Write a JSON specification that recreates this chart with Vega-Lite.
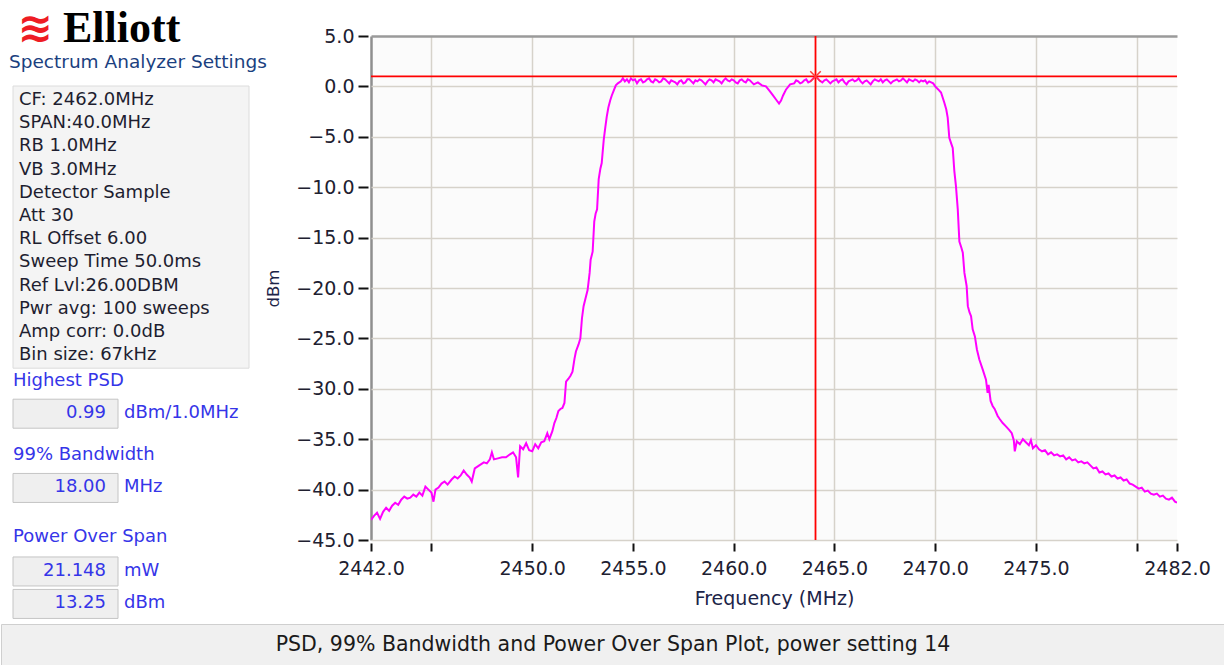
{
  "$schema": "https://vega.github.io/schema/vega-lite/v6.json",
  "background": "#ffffff",
  "padding": {"left": 0, "top": 7, "right": 0, "bottom": 0},
  "bounds": "full",
  "spacing": 3,
  "config": {"view": {"stroke": null}, "font": "DejaVu Sans"},
  "datasets": {
    "trace": [
      {"f":2442.0,"p":-43.0},{"f":2442.15,"p":-42.6},{"f":2442.3,"p":-42.3},{"f":2442.45,"p":-42.9},{"f":2442.6,"p":-42.2},{"f":2442.75,"p":-41.8},{"f":2442.9,"p":-42.1},{"f":2443.05,"p":-41.6},{"f":2443.2,"p":-41.3},{"f":2443.35,"p":-41.5},{"f":2443.5,"p":-41.0},{"f":2443.65,"p":-40.7},{"f":2443.8,"p":-40.9},{"f":2443.95,"p":-40.8},{"f":2444.1,"p":-40.5},{"f":2444.25,"p":-40.7},{"f":2444.4,"p":-40.3},{"f":2444.55,"p":-40.6},{"f":2444.7,"p":-39.7},{"f":2444.85,"p":-40.0},{"f":2445.0,"p":-40.3},{"f":2445.1,"p":-41.2},{"f":2445.2,"p":-40.0},{"f":2445.35,"p":-39.8},{"f":2445.5,"p":-39.4},{"f":2445.65,"p":-39.2},{"f":2445.8,"p":-39.5},{"f":2446.0,"p":-39.0},{"f":2446.15,"p":-38.7},{"f":2446.3,"p":-38.9},{"f":2446.45,"p":-38.6},{"f":2446.6,"p":-38.1},{"f":2446.75,"p":-38.5},{"f":2446.9,"p":-38.8},{"f":2447.0,"p":-39.2},{"f":2447.15,"p":-37.9},{"f":2447.3,"p":-37.7},{"f":2447.45,"p":-37.5},{"f":2447.6,"p":-37.3},{"f":2447.75,"p":-37.4},{"f":2447.9,"p":-37.0},{"f":2448.0,"p":-36.3},{"f":2448.1,"p":-37.0},{"f":2448.3,"p":-36.9},{"f":2448.5,"p":-36.8},{"f":2448.7,"p":-36.8},{"f":2448.9,"p":-36.5},{"f":2449.05,"p":-36.3},{"f":2449.2,"p":-36.8},{"f":2449.3,"p":-38.8},{"f":2449.4,"p":-35.7},{"f":2449.55,"p":-36.0},{"f":2449.7,"p":-35.4},{"f":2449.85,"p":-36.1},{"f":2450.0,"p":-36.2},{"f":2450.15,"p":-35.5},{"f":2450.3,"p":-35.9},{"f":2450.45,"p":-35.3},{"f":2450.6,"p":-35.2},{"f":2450.75,"p":-34.4},{"f":2450.85,"p":-35.0},{"f":2451.0,"p":-34.2},{"f":2451.1,"p":-33.4},{"f":2451.2,"p":-32.9},{"f":2451.3,"p":-32.2},{"f":2451.4,"p":-32.0},{"f":2451.5,"p":-31.9},{"f":2451.6,"p":-31.4},{"f":2451.68,"p":-29.3},{"f":2451.8,"p":-29.0},{"f":2451.9,"p":-28.7},{"f":2452.0,"p":-28.3},{"f":2452.1,"p":-27.0},{"f":2452.17,"p":-26.3},{"f":2452.3,"p":-25.6},{"f":2452.39,"p":-25.0},{"f":2452.47,"p":-23.0},{"f":2452.55,"p":-21.8},{"f":2452.65,"p":-21.0},{"f":2452.75,"p":-20.2},{"f":2452.85,"p":-18.5},{"f":2452.9,"p":-17.2},{"f":2453.0,"p":-16.4},{"f":2453.08,"p":-13.4},{"f":2453.15,"p":-12.6},{"f":2453.22,"p":-12.2},{"f":2453.3,"p":-9.2},{"f":2453.38,"p":-8.2},{"f":2453.45,"p":-7.6},{"f":2453.55,"p":-5.3},{"f":2453.62,"p":-4.2},{"f":2453.7,"p":-3.0},{"f":2453.78,"p":-2.1},{"f":2453.87,"p":-1.4},{"f":2453.95,"p":-0.9},{"f":2454.05,"p":-0.4},{"f":2454.15,"p":0.1},{"f":2454.25,"p":0.3},{"f":2454.4,"p":0.5},
      {"f":2454.5,"p":0.8},{"f":2454.6,"p":0.5},{"f":2454.7,"p":0.7},{"f":2454.8,"p":0.4},{"f":2454.9,"p":0.8},{"f":2455.0,"p":0.6},{"f":2455.1,"p":0.7},{"f":2455.2,"p":0.3},{"f":2455.3,"p":0.6},{"f":2455.4,"p":0.7},{"f":2455.5,"p":0.4},{"f":2455.6,"p":0.5},{"f":2455.7,"p":0.7},{"f":2455.8,"p":0.8},{"f":2455.9,"p":0.5},{"f":2456.0,"p":0.4},{"f":2456.1,"p":0.7},{"f":2456.2,"p":0.6},{"f":2456.3,"p":0.4},{"f":2456.4,"p":0.5},{"f":2456.5,"p":0.8},{"f":2456.6,"p":0.7},{"f":2456.7,"p":0.5},{"f":2456.8,"p":0.3},{"f":2456.9,"p":0.6},{"f":2457.0,"p":0.5},{"f":2457.1,"p":0.4},{"f":2457.2,"p":0.2},{"f":2457.3,"p":0.5},{"f":2457.4,"p":0.6},{"f":2457.5,"p":0.3},{"f":2457.6,"p":0.4},{"f":2457.7,"p":0.7},{"f":2457.8,"p":0.7},{"f":2457.9,"p":0.5},{"f":2458.0,"p":0.3},{"f":2458.1,"p":0.6},{"f":2458.2,"p":0.5},{"f":2458.3,"p":0.7},{"f":2458.4,"p":0.6},{"f":2458.5,"p":0.4},{"f":2458.6,"p":0.2},{"f":2458.7,"p":0.5},{"f":2458.8,"p":0.7},{"f":2458.9,"p":0.6},{"f":2459.0,"p":0.4},{"f":2459.1,"p":0.7},{"f":2459.2,"p":0.6},{"f":2459.3,"p":0.5},{"f":2459.4,"p":0.3},{"f":2459.5,"p":0.6},{"f":2459.6,"p":0.8},{"f":2459.7,"p":0.6},{"f":2459.8,"p":0.5},{"f":2459.9,"p":0.7},{"f":2460.0,"p":0.6},{"f":2460.1,"p":0.4},{"f":2460.2,"p":0.3},{"f":2460.3,"p":0.6},{"f":2460.4,"p":0.7},{"f":2460.5,"p":0.5},{"f":2460.6,"p":0.4},{"f":2460.7,"p":0.7},{"f":2460.8,"p":0.6},{"f":2460.9,"p":0.4},{"f":2461.0,"p":0.2},
      {"f":2461.2,"p":0.4},{"f":2461.4,"p":0.1},{"f":2461.6,"p":0.0},{"f":2461.8,"p":-0.5},{"f":2461.95,"p":-0.9},{"f":2462.1,"p":-1.3},{"f":2462.25,"p":-1.7},{"f":2462.35,"p":-1.4},{"f":2462.45,"p":-0.9},{"f":2462.6,"p":-0.3},{"f":2462.8,"p":0.2},{"f":2463.0,"p":0.3},{"f":2463.1,"p":0.6},{"f":2463.2,"p":0.5},{"f":2463.3,"p":0.3},{"f":2463.4,"p":0.4},{"f":2463.5,"p":0.6},{"f":2463.6,"p":0.7},{"f":2463.7,"p":0.4},{"f":2463.8,"p":0.5},{"f":2463.9,"p":0.7},{"f":2464.0,"p":0.9},{"f":2464.1,"p":0.99},{"f":2464.25,"p":0.6},{"f":2464.4,"p":0.4},{"f":2464.5,"p":0.6},{"f":2464.6,"p":0.7},{"f":2464.7,"p":0.5},{"f":2464.8,"p":0.3},{"f":2464.9,"p":0.5},{"f":2465.0,"p":0.6},{"f":2465.1,"p":0.7},{"f":2465.2,"p":0.4},{"f":2465.3,"p":0.6},{"f":2465.4,"p":0.7},{"f":2465.5,"p":0.4},{"f":2465.6,"p":0.2},{"f":2465.7,"p":0.5},{"f":2465.8,"p":0.6},{"f":2465.9,"p":0.7},{"f":2466.0,"p":0.5},{"f":2466.1,"p":0.6},{"f":2466.2,"p":0.8},{"f":2466.3,"p":0.5},{"f":2466.4,"p":0.3},{"f":2466.5,"p":0.5},{"f":2466.6,"p":0.6},{"f":2466.7,"p":0.4},{"f":2466.8,"p":0.2},{"f":2466.9,"p":0.5},{"f":2467.0,"p":0.7},{"f":2467.1,"p":0.6},{"f":2467.2,"p":0.5},{"f":2467.3,"p":0.7},{"f":2467.4,"p":0.4},{"f":2467.5,"p":0.6},{"f":2467.6,"p":0.7},{"f":2467.7,"p":0.5},{"f":2467.8,"p":0.3},{"f":2467.9,"p":0.5},{"f":2468.0,"p":0.6},{"f":2468.1,"p":0.7},{"f":2468.2,"p":0.5},{"f":2468.3,"p":0.6},{"f":2468.4,"p":0.8},{"f":2468.5,"p":0.6},{"f":2468.6,"p":0.4},{"f":2468.7,"p":0.7},{"f":2468.8,"p":0.6},{"f":2468.9,"p":0.5},{"f":2469.0,"p":0.7},{"f":2469.1,"p":0.6},{"f":2469.2,"p":0.4},{"f":2469.3,"p":0.6},{"f":2469.4,"p":0.5},{"f":2469.5,"p":0.6},{"f":2469.6,"p":0.3},{"f":2469.7,"p":0.5},{"f":2469.8,"p":0.4},{"f":2469.9,"p":0.3},{"f":2470.0,"p":0.0},
      {"f":2470.15,"p":-0.3},{"f":2470.29,"p":-0.6},{"f":2470.45,"p":-1.6},{"f":2470.55,"p":-2.3},{"f":2470.62,"p":-3.1},{"f":2470.7,"p":-5.1},{"f":2470.8,"p":-5.7},{"f":2470.87,"p":-6.1},{"f":2470.95,"p":-8.4},{"f":2471.03,"p":-9.9},{"f":2471.12,"p":-12.2},{"f":2471.2,"p":-15.4},{"f":2471.3,"p":-16.0},{"f":2471.37,"p":-16.5},{"f":2471.45,"p":-18.5},{"f":2471.56,"p":-19.8},{"f":2471.62,"p":-21.8},{"f":2471.7,"p":-22.4},{"f":2471.78,"p":-22.8},{"f":2471.86,"p":-24.1},{"f":2471.97,"p":-24.8},{"f":2472.07,"p":-26.1},{"f":2472.19,"p":-27.1},{"f":2472.36,"p":-28.1},{"f":2472.52,"p":-29.1},{"f":2472.6,"p":-30.4},{"f":2472.65,"p":-29.6},{"f":2472.75,"p":-31.2},{"f":2472.85,"p":-31.7},{"f":2472.95,"p":-32.0},{"f":2473.1,"p":-32.7},{"f":2473.2,"p":-33.0},{"f":2473.35,"p":-33.4},{"f":2473.5,"p":-33.7},{"f":2473.68,"p":-34.1},{"f":2473.8,"p":-34.4},{"f":2473.9,"p":-35.1},{"f":2473.95,"p":-36.2},{"f":2474.05,"p":-35.2},{"f":2474.2,"p":-35.5},{"f":2474.35,"p":-35.0},{"f":2474.5,"p":-35.3},{"f":2474.65,"p":-35.6},{"f":2474.75,"p":-35.1},{"f":2474.85,"p":-35.9},{"f":2475.0,"p":-35.6},{"f":2475.15,"p":-36.0},{"f":2475.3,"p":-36.2},{"f":2475.45,"p":-36.1},{"f":2475.6,"p":-36.5},{"f":2475.75,"p":-36.3},{"f":2475.9,"p":-36.6},{"f":2476.05,"p":-36.5},{"f":2476.2,"p":-36.7},{"f":2476.35,"p":-36.6},{"f":2476.5,"p":-37.0},{"f":2476.65,"p":-36.8},{"f":2476.8,"p":-37.1},{"f":2476.95,"p":-37.0},{"f":2477.1,"p":-37.3},{"f":2477.25,"p":-37.2},{"f":2477.4,"p":-37.4},{"f":2477.55,"p":-37.3},{"f":2477.7,"p":-37.6},{"f":2477.85,"p":-37.9},{"f":2478.0,"p":-37.8},{"f":2478.15,"p":-38.3},{"f":2478.3,"p":-38.2},{"f":2478.45,"p":-38.5},{"f":2478.6,"p":-38.4},{"f":2478.75,"p":-38.7},{"f":2478.9,"p":-38.6},{"f":2479.05,"p":-38.9},{"f":2479.2,"p":-38.8},{"f":2479.35,"p":-39.1},{"f":2479.5,"p":-39.0},{"f":2479.65,"p":-39.4},{"f":2479.8,"p":-39.5},{"f":2479.95,"p":-39.7},{"f":2480.1,"p":-39.9},{"f":2480.25,"p":-39.8},{"f":2480.4,"p":-40.2},{"f":2480.55,"p":-40.1},{"f":2480.7,"p":-40.4},{"f":2480.85,"p":-40.5},{"f":2481.0,"p":-40.4},{"f":2481.15,"p":-40.7},{"f":2481.3,"p":-40.6},{"f":2481.45,"p":-40.9},{"f":2481.6,"p":-41.0},{"f":2481.75,"p":-40.8},{"f":2481.9,"p":-41.2},{"f":2482.0,"p":-41.3}
    ],
    "markers": [{"f": 2464.06, "p": 0.99}],
    "panel": [
      {"t": "≋", "k": "logo", "col": "label", "line": -2.05},
      {"t": "Elliott", "k": "brand", "col": "label", "line": -2.05},
      {"t": "Spectrum Analyzer Settings", "k": "heading", "col": "label", "line": -0.65},
      {"t": "CF: 2462.0MHz", "k": "setting", "col": "label", "line": 1},
      {"t": "SPAN:40.0MHz", "k": "setting", "col": "label", "line": 2},
      {"t": "RB 1.0MHz", "k": "setting", "col": "label", "line": 3},
      {"t": "VB 3.0MHz", "k": "setting", "col": "label", "line": 4},
      {"t": "Detector Sample", "k": "setting", "col": "label", "line": 5},
      {"t": "Att 30", "k": "setting", "col": "label", "line": 6},
      {"t": "RL Offset 6.00", "k": "setting", "col": "label", "line": 7},
      {"t": "Sweep Time 50.0ms", "k": "setting", "col": "label", "line": 8},
      {"t": "Ref Lvl:26.00DBM", "k": "setting", "col": "label", "line": 9},
      {"t": "Pwr avg: 100 sweeps", "k": "setting", "col": "label", "line": 10},
      {"t": "Amp corr: 0.0dB", "k": "setting", "col": "label", "line": 11},
      {"t": "Bin size: 67kHz", "k": "setting", "col": "label", "line": 12},
      {"t": "Highest PSD", "k": "label", "col": "label", "line": 13.1},
      {"t": "0.99", "k": "value", "col": "unit", "line": 14.5},
      {"t": "dBm/1.0MHz", "k": "unit", "col": "unit", "line": 14.5},
      {"t": "99% Bandwidth", "k": "label", "col": "label", "line": 16.3},
      {"t": "18.00", "k": "value", "col": "unit", "line": 17.7},
      {"t": "MHz", "k": "unit", "col": "unit", "line": 17.7},
      {"t": "Power Over Span", "k": "label", "col": "label", "line": 19.85},
      {"t": "21.148", "k": "value", "col": "unit", "line": 21.3},
      {"t": "mW", "k": "unit", "col": "unit", "line": 21.3},
      {"t": "13.25", "k": "value", "col": "unit", "line": 22.7},
      {"t": "dBm", "k": "unit", "col": "unit", "line": 22.7}
    ],
    "status": [{"t": "PSD, 99% Bandwidth and Power Over Span Plot, power setting 14"}]
  },
  "vconcat": [
    {
      "bounds": "flush",
      "spacing": 110,
      "hconcat": [
        {
          "width": 260,
          "height": 584,
          "data": {"name": "panel"},
          "encoding": {
            "x": {"field": "col", "type": "nominal", "scale": {"type": "point", "domain": ["label", "unit"], "range": [12, 121], "padding": 0}, "axis": null},
            "y": {"field": "line", "type": "quantitative", "scale": {"domain": [-1.759, 23.414], "reverse": true, "nice": false, "zero": false}, "axis": null}
          },
          "layer": [
            {
              "transform": [{"filter": "datum.k == 'setting'"}],
              "mark": {"type": "rect", "fill": "#f4f4f4", "stroke": "#dcdcdc", "strokeWidth": 1, "yOffset": -14, "y2Offset": 13, "x2Offset": 127},
              "encoding": {
                "x": {"datum": "label", "type": "nominal"},
                "x2": {"datum": "unit"},
                "y": {"aggregate": "min", "field": "line", "type": "quantitative"},
                "y2": {"aggregate": "max", "field": "line"}
              }
            },
            {
              "transform": [{"filter": "datum.k == 'value'"}],
              "mark": {"type": "rect", "fill": "#efefef", "stroke": "#c4c4c4", "strokeWidth": 1, "yOffset": -14, "y2Offset": 15, "x2Offset": -4},
              "encoding": {
                "x": {"datum": "label", "type": "nominal"},
                "x2": {"datum": "unit"},
                "y": {"field": "line", "type": "quantitative"},
                "y2": {"field": "line"}
              }
            },
            {
              "transform": [{"filter": "datum.k == 'logo'"}],
              "mark": {"type": "text", "align": "center", "baseline": "middle", "dx": 22, "fontSize": 42, "fontWeight": "bold", "color": "#ee1c24", "font": "DejaVu Sans"},
              "encoding": {"text": {"field": "t", "type": "nominal"}}
            },
            {
              "transform": [{"filter": "datum.k == 'brand'"}],
              "mark": {"type": "text", "align": "left", "baseline": "middle", "dx": 50, "fontSize": 44, "fontWeight": "bold", "color": "#000000", "font": "Liberation Serif"},
              "encoding": {"text": {"field": "t", "type": "nominal"}}
            },
            {
              "transform": [{"filter": "datum.k == 'heading'"}],
              "mark": {"type": "text", "align": "left", "baseline": "middle", "dx": -4, "fontSize": 18.5, "color": "#1b3f80", "font": "DejaVu Sans"},
              "encoding": {"text": {"field": "t", "type": "nominal"}}
            },
            {
              "transform": [{"filter": "datum.k == 'setting'"}],
              "mark": {"type": "text", "align": "left", "baseline": "middle", "dx": 6, "fontSize": 18, "color": "#1e1e30", "font": "DejaVu Sans"},
              "encoding": {"text": {"field": "t", "type": "nominal"}}
            },
            {
              "transform": [{"filter": "datum.k == 'label'"}],
              "mark": {"type": "text", "align": "left", "baseline": "middle", "dx": 0, "fontSize": 18, "color": "#3535e8", "font": "DejaVu Sans"},
              "encoding": {"text": {"field": "t", "type": "nominal"}}
            },
            {
              "transform": [{"filter": "datum.k == 'value'"}],
              "mark": {"type": "text", "align": "right", "baseline": "middle", "dx": -16, "fontSize": 18, "color": "#3535e8", "font": "DejaVu Sans"},
              "encoding": {"text": {"field": "t", "type": "nominal"}}
            },
            {
              "transform": [{"filter": "datum.k == 'unit'"}],
              "mark": {"type": "text", "align": "left", "baseline": "middle", "dx": 2, "fontSize": 18, "color": "#3535e8", "font": "DejaVu Sans"},
              "encoding": {"text": {"field": "t", "type": "nominal"}}
            }
          ]
        },
        {
          "width": 806,
          "height": 504,
          "view": {"fill": "#fbfbfb", "stroke": null},
          "layer": [
            {
              "data": {"name": "trace"},
              "mark": {"type": "line", "color": "#ff00ff", "strokeWidth": 2, "clip": true},
              "encoding": {
                "x": {
                  "field": "f", "type": "quantitative",
                  "scale": {"domain": [2442, 2482], "nice": false, "zero": false},
                  "axis": {
                    "values": [2442, 2445, 2450, 2455, 2460, 2465, 2470, 2475, 2480, 2482],
                    "labelExpr": "datum.value == 2445 || datum.value == 2480 ? '' : format(datum.value, '.1f')",
                    "domain": false, "tickColor": "#111111", "tickWidth": 2, "tickSize": 8, "offset": 3,
                    "labelFont": "DejaVu Sans", "labelFontSize": 19, "labelColor": "#202030", "labelPadding": 8,
                    "labelOverlap": false, "labelFlush": false,
                    "title": "Frequency (MHz)", "titleFont": "DejaVu Sans", "titleFontSize": 19, "titleFontWeight": "normal", "titleColor": "#1c2448", "titlePadding": 11,
                    "gridColor": {"condition": {"test": "datum.value == 2442", "value": "#8f8f8f"}, "value": "#d6d2ca"},
                    "gridWidth": {"condition": {"test": "datum.value == 2442", "value": 2.5}, "value": 1.5},
                    "gridOpacity": {"condition": {"test": "datum.value == 2482", "value": 0}, "value": 1}
                  }
                },
                "y": {
                  "field": "p", "type": "quantitative",
                  "scale": {"domain": [-45, 5], "nice": false, "zero": false},
                  "axis": {
                    "values": [-45, -40, -35, -30, -25, -20, -15, -10, -5, 0, 5],
                    "format": ".1f",
                    "domain": false, "tickColor": "#111111", "tickWidth": 2, "tickSize": 10, "offset": 3,
                    "labelFont": "DejaVu Sans", "labelFontSize": 19, "labelColor": "#202030", "labelPadding": 4,
                    "title": "dBm", "titleFont": "DejaVu Sans", "titleFontSize": 16.5, "titleFontWeight": "normal", "titleColor": "#1c2448", "titlePadding": 14,
                    "gridColor": {"condition": {"test": "datum.value == 5", "value": "#9a9a9a"}, "value": "#d6d2ca"},
                    "gridWidth": {"condition": {"test": "datum.value == 5", "value": 2.5}, "value": 1.5}
                  }
                }
              }
            },
            {
              "data": {"name": "markers"},
              "mark": {"type": "rule", "color": "#ff0000", "strokeWidth": 1.8},
              "encoding": {"y": {"field": "p", "type": "quantitative"}}
            },
            {
              "data": {"name": "markers"},
              "mark": {"type": "rule", "color": "#ff0000", "strokeWidth": 1.8},
              "encoding": {"x": {"field": "f", "type": "quantitative"}}
            },
            {
              "data": {"name": "markers"},
              "mark": {"type": "point", "shape": "M-1,-1L1,1M-1,1L1,-1", "size": 110, "stroke": "#ff3b3b", "strokeWidth": 1.5, "filled": false, "opacity": 1},
              "encoding": {"x": {"field": "f", "type": "quantitative"}, "y": {"field": "p", "type": "quantitative"}}
            }
          ]
        }
      ]
    },
    {
      "width": 1224,
      "height": 42,
      "view": {"fill": "#f0f0f0", "stroke": "#cfcfcf"},
      "data": {"name": "status"},
      "mark": {"type": "text", "fontSize": 20.5, "color": "#1a1a1a", "font": "DejaVu Sans"},
      "encoding": {"text": {"field": "t", "type": "nominal"}}
    }
  ]
}
